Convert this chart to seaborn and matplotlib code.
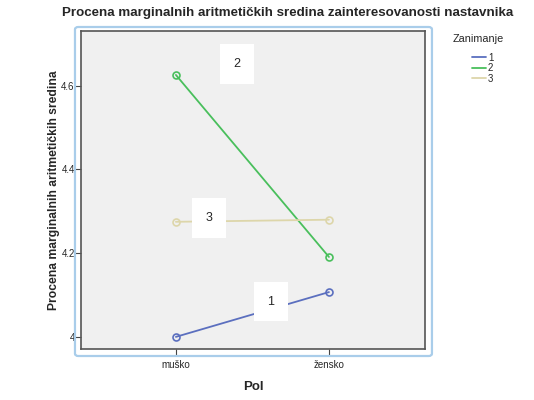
import matplotlib
matplotlib.use("Agg")
import matplotlib.pyplot as plt
from matplotlib.lines import Line2D
from matplotlib.patches import FancyBboxPatch
import pandas as pd
import seaborn as sns

# values
pol = ["muško", "žensko"]
zanimanje = ["1", "2", "3"]
mean_1 = [4.000, 4.107]
mean_2 = [4.626, 4.191]
mean_3 = [4.275, 4.280]

colors = {"1": "#5b6fbf", "2": "#49bf5c", "3": "#ddd6aa"}

df = pd.DataFrame({
    "Pol": pol * 3,
    "Zanimanje": [z for z in zanimanje for _ in pol],
    "Sredina": mean_1 + mean_2 + mean_3,
})

sns.set_style("white")
plt.rcParams["font.family"] = ["Liberation Sans", "DejaVu Sans"]

fig = plt.figure(figsize=(5.34, 4.0), dpi=100)
ax = fig.add_axes([0.1517, 0.1275, 0.644, 0.795])
ax.set_facecolor("#f0f0f0")

sns.lineplot(data=df, x="Pol", y="Sredina", hue="Zanimanje", palette=colors,
             marker="o", markersize=5, markerfacecolor="none", markeredgewidth=1.2,
             linewidth=1.3, legend=False, ax=ax)
for line in ax.lines:
    line.set_markeredgecolor(line.get_color())

ax.set_xlim(-0.62, 1.627)
ax.set_ylim(3.971, 4.731)
ax.set_yticks([4.0, 4.2, 4.4, 4.6])
ax.set_yticklabels(["4", "4.2", "4.4", "4.6"])
ax.tick_params(axis="both", labelsize=7, length=4, width=0.8, color="#444444",
               direction="out", left=True, bottom=True)
ax.tick_params(axis="y", pad=0.5)
ax.tick_params(axis="x", pad=4)

for s in ax.spines.values():
    s.set_color("#555555")
    s.set_linewidth(1.2)

ax.set_xlabel("Pol", fontsize=9.5, fontweight="bold")
ax.set_ylabel("Procena marginalnih aritmetičkih sredina", fontsize=8.7, fontweight="bold")
ax.xaxis.set_label_coords(0.5, -0.1)
ax.yaxis.set_label_coords(-0.062, 0.5)

# line labels in white boxes
for txt, (x, y) in {"2": (0.399, 4.652), "3": (0.216, 4.284), "1": (0.621, 4.084)}.items():
    ax.text(x, y, txt, ha="center", va="center", fontsize=9,
            bbox=dict(boxstyle="square,pad=1.1", fc="white", ec="none"))

# light blue frame around the plot area
frame = FancyBboxPatch((0.1404, 0.11), 0.6685, 0.8225, boxstyle="round,pad=0,rounding_size=0.006",
                       transform=fig.transFigure, fill=False, ec="#a9cdea", lw=1.6, zorder=0)
fig.patches.append(frame)

fig.text(0.539, 0.967, "Procena marginalnih aritmetičkih sredina zainteresovanosti nastavnika",
         ha="center", va="center", fontsize=9.6, fontweight="bold")

# legend: title drawn separately, entries below it
fig.text(0.895, 0.903, "Zanimanje", ha="center", va="center", fontsize=7.8)
handles = [Line2D([], [], color=colors[z], lw=1.3) for z in zanimanje]
fig.legend(handles, zanimanje, loc="upper left",
           bbox_to_anchor=(0.883, 0.868), frameon=False, fontsize=7,
           handlelength=1.5, handletextpad=0.2,
           labelspacing=0.05, borderaxespad=0, borderpad=0)

fig.savefig("out.png", dpi=100)
